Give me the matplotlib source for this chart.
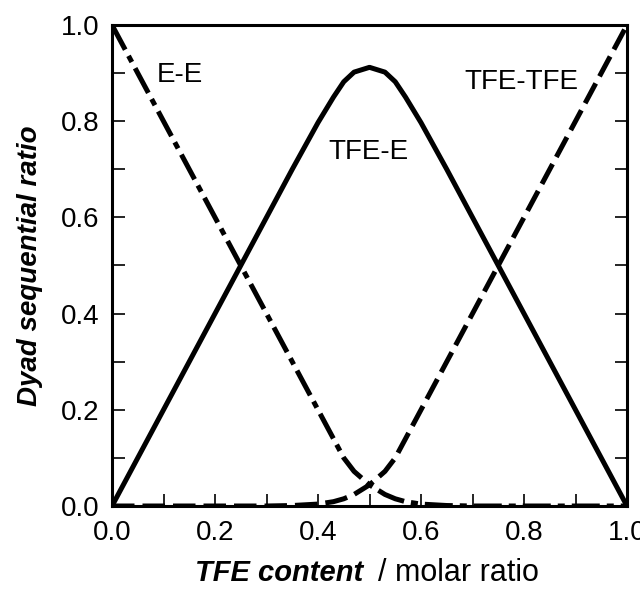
#!usr/bin/env python
'''
dyad sequential ratio of E/TFE copolymer vs TFE content
'''

import matplotlib
matplotlib.use("Agg")
import matplotlib.pyplot as plt
from matplotlib.ticker import MultipleLocator

plt.rcParams['font.family'] = ['Liberation Sans', 'DejaVu Sans']

# TFE content (molar ratio)
tfe = [0.0, 0.05, 0.1, 0.15, 0.2, 0.25, 0.3, 0.35, 0.4, 0.43, 0.45, 0.47,
       0.5, 0.53, 0.55, 0.57, 0.6, 0.65, 0.7, 0.75, 0.8, 0.85, 0.9, 0.95,
       1.0]
# dyad fractions
ee = [1.0, 0.9, 0.8, 0.7, 0.6, 0.5, 0.4, 0.3, 0.2, 0.14, 0.1, 0.072,
      0.044, 0.024, 0.015, 0.009, 0.004, 0.001, 0.0, 0.0, 0.0, 0.0, 0.0,
      0.0, 0.0]
tt = ee[::-1]
te = [0.0, 0.1, 0.2, 0.3, 0.4, 0.5, 0.6, 0.7, 0.797, 0.85, 0.882, 0.902,
      0.912, 0.902, 0.882, 0.85, 0.797, 0.7, 0.6, 0.5, 0.4, 0.3, 0.2, 0.1,
      0.0]

W, H = 640, 590


def plot_dyads():
    fig = plt.figure(figsize=(W / 100, H / 100), dpi=100)
    ax = fig.add_axes([112 / W, 1 - 506 / H, 515 / W, 481 / H])

    ax.plot(tfe, ee, color='black', lw=3.6, dashes=(5.6, 1.4, 1.4, 1.4))
    ax.plot(tfe, te, color='black', lw=3.6, solid_capstyle='round',
            solid_joinstyle='round')
    ax.plot(tfe, tt, color='black', lw=3.6, dashes=(4.5, 1.6))

    ax.text(0.132, 0.896, 'E-E', fontsize=20, ha='center', va='center')
    ax.text(0.497, 0.736, 'TFE-E', fontsize=20, ha='center', va='center')
    ax.text(0.794, 0.881, 'TFE-TFE', fontsize=20, ha='center', va='center')

    ax.set_xlim(0, 1)
    ax.set_ylim(0, 1)
    ax.xaxis.set_major_locator(MultipleLocator(0.2))
    ax.xaxis.set_minor_locator(MultipleLocator(0.1))
    ax.yaxis.set_major_locator(MultipleLocator(0.2))
    ax.yaxis.set_minor_locator(MultipleLocator(0.1))
    ax.xaxis.set_major_formatter(plt.FormatStrFormatter('%.1f'))
    ax.yaxis.set_major_formatter(plt.FormatStrFormatter('%.1f'))
    ax.tick_params(which='both', direction='in', right=True, top=False,
                   labelsize=20, width=1.2, length=9)
    ax.tick_params(axis='x', pad=10)
    ax.tick_params(axis='y', pad=9)
    for sp in ax.spines.values():
        sp.set_linewidth(2.2)

    # x label: italic bold part followed by plain unit
    fig.text(195 / W, 1 - 581 / H, 'TFE content', fontsize=21,
             fontweight='bold', style='italic', va='baseline')
    fig.text(378 / W, 1 - 581 / H, '/ molar ratio', fontsize=22,
             va='baseline')
    fig.text(30 / W, 1 - 266 / H, 'Dyad sequential ratio', fontsize=20,
             fontweight='bold', style='italic', rotation=90,
             ha='center', va='center')

    fig.savefig('out.png', dpi=100)


if __name__ == "__main__":
    plot_dyads()
